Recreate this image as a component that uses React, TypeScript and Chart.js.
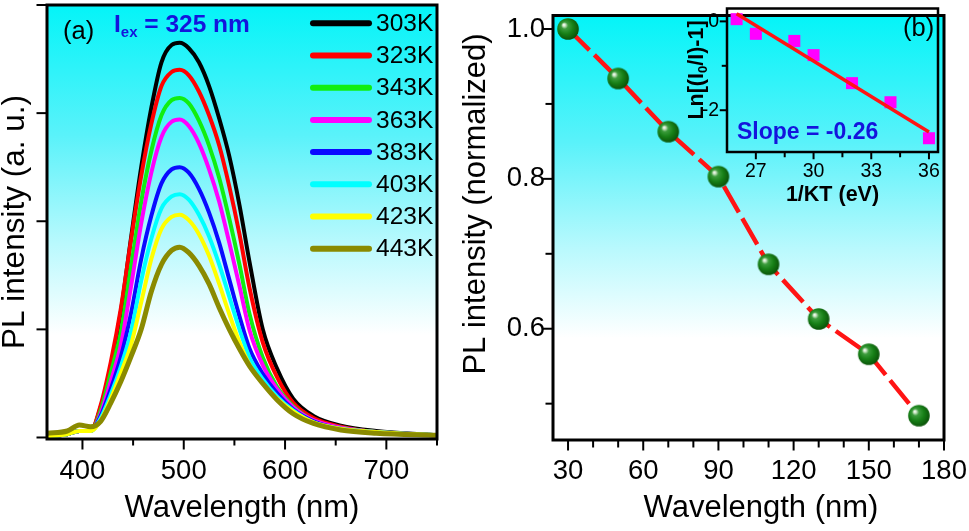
import React, { useEffect, useRef } from 'react';
import { Chart, registerables } from 'chart.js';

Chart.register(...registerables);

// ---------------- data ----------------
const WAVELENGTH = [365, 385, 397, 408, 418, 428, 438, 448, 458, 468, 478, 488, 496, 505, 515, 525, 535, 545, 555, 565, 578, 592, 608, 628, 655, 690, 750];
const PL_303K = [0.01, 0.03, 0.06, 0.06, 0.28, 0.66, 1.17, 1.85, 2.5, 3.05, 3.47, 3.63, 3.65, 3.6, 3.47, 3.25, 2.95, 2.6, 2.15, 1.62, 1.0, 0.64, 0.36, 0.2, 0.11, 0.06, 0.02];
const PL_323K = [0.01, 0.03, 0.06, 0.06, 0.3, 0.7, 1.2, 1.83, 2.42, 2.9, 3.25, 3.38, 3.4, 3.35, 3.2, 2.98, 2.7, 2.32, 1.88, 1.38, 0.88, 0.56, 0.32, 0.18, 0.1, 0.05, 0.02];
const PL_343K = [0.01, 0.03, 0.06, 0.06, 0.25, 0.6, 0.98, 1.58, 2.18, 2.65, 2.98, 3.12, 3.14, 3.09, 2.93, 2.7, 2.4, 2.02, 1.6, 1.14, 0.74, 0.47, 0.29, 0.16, 0.09, 0.05, 0.02];
const PL_363K = [0.01, 0.03, 0.06, 0.06, 0.22, 0.52, 0.86, 1.4, 1.98, 2.45, 2.78, 2.92, 2.94, 2.88, 2.72, 2.48, 2.18, 1.8, 1.4, 0.99, 0.67, 0.45, 0.28, 0.16, 0.09, 0.05, 0.02];
const PL_383K = [0.01, 0.03, 0.06, 0.06, 0.2, 0.45, 0.75, 1.15, 1.65, 2.05, 2.35, 2.48, 2.5, 2.45, 2.3, 2.08, 1.8, 1.46, 1.12, 0.82, 0.59, 0.41, 0.26, 0.15, 0.08, 0.05, 0.02];
const PL_403K = [0.01, 0.03, 0.06, 0.06, 0.18, 0.4, 0.66, 0.98, 1.45, 1.84, 2.12, 2.23, 2.25, 2.2, 2.06, 1.86, 1.6, 1.3, 1.0, 0.74, 0.54, 0.38, 0.25, 0.14, 0.08, 0.05, 0.02];
const PL_423K = [0.01, 0.03, 0.06, 0.06, 0.16, 0.36, 0.6, 0.86, 1.25, 1.65, 1.93, 2.04, 2.06, 2.01, 1.88, 1.68, 1.42, 1.14, 0.88, 0.67, 0.5, 0.36, 0.24, 0.14, 0.08, 0.05, 0.02];
const PL_443K = [0.04, 0.06, 0.115, 0.1, 0.15, 0.32, 0.52, 0.75, 1.0, 1.35, 1.6, 1.73, 1.76, 1.71, 1.59, 1.42, 1.2, 1.0, 0.82, 0.66, 0.5, 0.35, 0.22, 0.13, 0.07, 0.04, 0.02];
const TEMPERATURES = ['303K', '323K', '343K', '363K', '383K', '403K', '423K', '443K'];
const SERIES = [PL_303K, PL_323K, PL_343K, PL_363K, PL_383K, PL_403K, PL_423K, PL_443K];
const SERIES_COLORS = ['#000000', '#ff0000', '#11ee11', '#ff00ff', '#0a0aff', '#00ffff', '#ffff00', '#8a8a00'];

const TEMP_AXIS = [30, 50, 70, 90, 110, 130, 150, 170];
const NORMALIZED_PL = [1.0, 0.934, 0.863, 0.803, 0.686, 0.613, 0.566, 0.484];

const INV_KT = [26, 27, 29, 30, 32, 34, 36];
const LN_RATIO = [0.05, -0.28, -0.44, -0.76, -1.39, -1.82, -2.63];
const FIT_INV_KT = [26, 36];
const FIT_LN_RATIO = [0.17, -2.49];

const LEFT_X_MAJOR = [400, 500, 600, 700];
const LEFT_X_MINOR = [450, 550, 650, 750];
const LEFT_Y_MAJOR = [0, 1, 2, 3, 4];
const RIGHT_X_MAJOR = [30, 60, 90, 120, 150, 180];
const RIGHT_X_MINOR = [40, 50, 70, 80, 100, 110, 130, 140, 160, 170];
const RIGHT_Y_MAJOR = [0.6, 0.8, 1.0];
const RIGHT_Y_MINOR = [0.5, 0.7, 0.9];
const INSET_X_MAJOR = [27, 30, 33, 36];
const INSET_X_MINOR = [28.5, 31.5, 34.5];
const INSET_Y_MAJOR = [-2, 0];
const INSET_Y_MINOR = [-1];

// ---------------- helpers ----------------
const FONT = '"Liberation Sans", Arial, Helvetica, sans-serif';

type Seg = { t: string; sub?: boolean };
type TextItem = {
  segs: Seg[];
  x: number;
  y: number;
  size: number;
  bold?: boolean;
  color: string;
  align: 'left' | 'center';
  rotate?: boolean;
};

function drawRich(ctx: CanvasRenderingContext2D, item: TextItem) {
  const { segs, x, y, size, bold, color, align, rotate } = item;
  const w = bold ? 'bold ' : '';
  const subSize = Math.round(size * 0.62);
  const fontFor = (s: Seg) => `${w}${s.sub ? subSize : size}px ${FONT}`;
  let total = 0;
  const widths = segs.map((s) => {
    ctx.font = fontFor(s);
    const m = ctx.measureText(s.t).width;
    total += m;
    return m;
  });
  ctx.save();
  ctx.translate(x, y);
  if (rotate) ctx.rotate(-Math.PI / 2);
  ctx.fillStyle = color;
  ctx.textBaseline = 'middle';
  ctx.textAlign = 'left';
  let cx = align === 'center' ? -total / 2 : 0;
  segs.forEach((s, i) => {
    ctx.font = fontFor(s);
    ctx.fillText(s.t, cx, s.sub ? size * 0.32 : 0);
    cx += widths[i];
  });
  ctx.restore();
}

type DecoOpts = {
  id: string;
  background: boolean;
  frameWidth: number;
  tickWidth: number;
  majorLen: number;
  minorLen: number;
  xMajor: number[];
  xMinor: number[];
  yMajor: number[];
  yMinor: number[];
  texts: TextItem[];
  legend?: boolean;
};

function makeDeco(o: DecoOpts) {
  return {
    id: o.id,
    beforeDraw(chart: any) {
      if (!o.background) return;
      const { ctx, chartArea: a } = chart;
      const g = ctx.createLinearGradient(0, a.top, 0, a.bottom);
      g.addColorStop(0, 'rgb(4,244,248)');
      g.addColorStop(0.3, 'rgb(90,242,250)');
      g.addColorStop(0.55, 'rgb(185,249,253)');
      g.addColorStop(0.76, 'rgb(255,255,255)');
      g.addColorStop(1, 'rgb(255,255,255)');
      ctx.save();
      ctx.fillStyle = g;
      ctx.fillRect(a.left, a.top, a.right - a.left, a.bottom - a.top);
      ctx.restore();
    },
    afterDraw(chart: any) {
      const { ctx, chartArea: a, scales } = chart;
      ctx.save();
      ctx.strokeStyle = '#000';
      ctx.lineWidth = o.frameWidth;
      ctx.strokeRect(a.left, a.top, a.right - a.left, a.bottom - a.top);
      ctx.lineWidth = o.tickWidth;
      ctx.lineCap = 'butt';
      const xTick = (v: number, len: number) => {
        const px = scales.x.getPixelForValue(v);
        ctx.beginPath();
        ctx.moveTo(px, a.bottom);
        ctx.lineTo(px, a.bottom + o.frameWidth / 2 + len);
        ctx.stroke();
      };
      const yTick = (v: number, len: number) => {
        const py = scales.y.getPixelForValue(v);
        ctx.beginPath();
        ctx.moveTo(a.left, py);
        ctx.lineTo(a.left - o.frameWidth / 2 - len, py);
        ctx.stroke();
      };
      o.xMajor.forEach((v) => xTick(v, o.majorLen));
      o.xMinor.forEach((v) => xTick(v, o.minorLen));
      o.yMajor.forEach((v) => yTick(v, o.majorLen));
      o.yMinor.forEach((v) => yTick(v, o.minorLen));

      if (o.legend) {
        TEMPERATURES.forEach((label, i) => {
          const y = 23.3 + i * 32.2;
          ctx.strokeStyle = SERIES_COLORS[i];
          ctx.lineWidth = 6;
          ctx.lineCap = 'round';
          ctx.beginPath();
          ctx.moveTo(313, y);
          ctx.lineTo(369, y);
          ctx.stroke();
          ctx.fillStyle = '#000';
          ctx.font = `24.5px ${FONT}`;
          ctx.textBaseline = 'middle';
          ctx.textAlign = 'left';
          ctx.fillText(label, 376, y + 1);
        });
      }
      o.texts.forEach((t) => drawRich(ctx, t));
      ctx.restore();
    },
  };
}

function makeSphere(r: number) {
  const c = document.createElement('canvas');
  const size = Math.ceil(r * 2) + 2;
  c.width = size;
  c.height = size;
  const ctx = c.getContext('2d')!;
  const cx = size / 2;
  const cy = size / 2;
  const g = ctx.createRadialGradient(cx - r * 0.4, cy - r * 0.4, 0, cx - r * 0.1, cy - r * 0.1, r * 1.15);
  g.addColorStop(0, '#ffffff');
  g.addColorStop(0.1, '#d6ecd0');
  g.addColorStop(0.28, '#3c9c3c');
  g.addColorStop(0.6, '#178017');
  g.addColorStop(1, '#0a5008');
  ctx.fillStyle = g;
  ctx.beginPath();
  ctx.arc(cx, cy, r, 0, Math.PI * 2);
  ctx.fill();
  return c;
}

const noGrid = { display: false, drawTicks: false };
const noBorder = { display: false };

export default function App() {
  const leftRef = useRef<HTMLCanvasElement>(null);
  const rightRef = useRef<HTMLCanvasElement>(null);
  const insetRef = useRef<HTMLCanvasElement>(null);

  useEffect(() => {
    const charts: Chart[] = [];

    // ---------- left panel ----------
    const leftDatasets = SERIES.map((vals, i) => ({
      label: TEMPERATURES[i],
      data: WAVELENGTH.map((x, j) => ({ x, y: vals[j] })),
      showLine: true,
      borderColor: SERIES_COLORS[i],
      backgroundColor: SERIES_COLORS[i],
      borderWidth: i === 7 ? 5 : 4,
      pointRadius: 0,
      cubicInterpolationMode: 'monotone',
      order: 8 - i,
    }));

    charts.push(
      new Chart(leftRef.current!, {
        type: 'scatter',
        data: { datasets: leftDatasets as any },
        options: {
          responsive: false,
          animation: false,
          devicePixelRatio: 1,
          events: [],
          layout: { padding: { left: 0, top: 5, right: 23, bottom: 0 } },
          plugins: { legend: { display: false }, tooltip: { enabled: false } },
          scales: {
            x: {
              type: 'linear',
              min: 365,
              max: 750,
              bounds: 'data',
              afterBuildTicks: (s: any) => {
                s.ticks = LEFT_X_MAJOR.map((v) => ({ value: v }));
              },
              afterFit: (s: any) => {
                s.height = 92;
                s.paddingLeft = 0;
                s.paddingRight = 0;
              },
              grid: noGrid,
              border: noBorder,
              ticks: {
                color: '#000',
                font: { family: FONT, size: 27.5 },
                padding: 16,
                maxRotation: 0,
                autoSkip: false,
                callback: (v: any) => String(v),
              },
              title: {
                display: true,
                text: 'Wavelength (nm)',
                color: '#000',
                font: { family: FONT, size: 31, lineHeight: 1 },
                padding: { top: 0, bottom: 7.5 },
              },
            },
            y: {
              type: 'linear',
              min: -0.014,
              max: 4,
              bounds: 'data',
              afterBuildTicks: (s: any) => {
                s.ticks = LEFT_Y_MAJOR.map((v) => ({ value: v }));
              },
              afterFit: (s: any) => {
                s.width = 47;
                s.paddingTop = 0;
                s.paddingBottom = 0;
              },
              grid: noGrid,
              border: noBorder,
              ticks: { display: false },
              title: {
                display: true,
                text: 'PL intensity (a. u.)',
                color: '#000',
                font: { family: FONT, size: 31.5, lineHeight: 1 },
                padding: { top: 0, bottom: 0 },
              },
            },
          },
        } as any,
        plugins: [
          makeDeco({
            id: 'decoLeft',
            background: true,
            frameWidth: 3,
            tickWidth: 2,
            majorLen: 9,
            minorLen: 5,
            xMajor: LEFT_X_MAJOR,
            xMinor: LEFT_X_MINOR,
            yMajor: LEFT_Y_MAJOR,
            yMinor: [],
            legend: true,
            texts: [
              { segs: [{ t: '(a)' }], x: 63, y: 32, size: 25.5, color: '#000', align: 'left' },
              {
                segs: [{ t: 'I' }, { t: 'ex', sub: true }, { t: ' = 325 nm' }],
                x: 114,
                y: 25,
                size: 24.5,
                bold: true,
                color: '#1414dc',
                align: 'left',
              },
            ],
          }) as any,
        ],
      })
    );

    // ---------- right panel ----------
    const sphere = makeSphere(10.8);
    charts.push(
      new Chart(rightRef.current!, {
        type: 'scatter',
        data: {
          datasets: [
            {
              label: 'normalized',
              data: TEMP_AXIS.map((x, i) => ({ x, y: NORMALIZED_PL[i] })),
              showLine: true,
              borderColor: '#ff1414',
              borderWidth: 4.5,
              borderDash: [30, 7],
              pointStyle: sphere,
              pointRadius: 11,
              clip: false,
            } as any,
          ],
        },
        options: {
          responsive: false,
          animation: false,
          devicePixelRatio: 1,
          events: [],
          layout: { padding: { left: 0, top: 5, right: 25, bottom: 0 } },
          plugins: { legend: { display: false }, tooltip: { enabled: false } },
          scales: {
            x: {
              type: 'linear',
              min: 24,
              max: 180,
              bounds: 'data',
              afterBuildTicks: (s: any) => {
                s.ticks = RIGHT_X_MAJOR.map((v) => ({ value: v }));
              },
              afterFit: (s: any) => {
                s.height = 91;
                s.paddingLeft = 0;
                s.paddingRight = 0;
              },
              grid: noGrid,
              border: noBorder,
              ticks: {
                color: '#000',
                font: { family: FONT, size: 27.5 },
                padding: 15,
                maxRotation: 0,
                autoSkip: false,
                callback: (v: any) => String(v),
              },
              title: { display: false },
            },
            y: {
              type: 'linear',
              min: 0.4515,
              max: 1.018,
              bounds: 'data',
              afterBuildTicks: (s: any) => {
                s.ticks = RIGHT_Y_MAJOR.map((v) => ({ value: v }));
              },
              afterFit: (s: any) => {
                s.width = 93;
                s.paddingTop = 0;
                s.paddingBottom = 0;
              },
              grid: noGrid,
              border: noBorder,
              ticks: {
                color: '#000',
                font: { family: FONT, size: 27.5 },
                padding: 8,
                autoSkip: false,
                callback: (v: any) => Number(v).toFixed(1),
              },
              title: { display: false },
            },
          },
        } as any,
        plugins: [
          makeDeco({
            id: 'decoRight',
            background: true,
            frameWidth: 3,
            tickWidth: 2,
            majorLen: 9,
            minorLen: 6,
            xMajor: RIGHT_X_MAJOR,
            xMinor: RIGHT_X_MINOR,
            yMajor: RIGHT_Y_MAJOR,
            yMinor: RIGHT_Y_MINOR,
            texts: [
              { segs: [{ t: 'Wavelength (nm)' }], x: 301, y: 508, size: 31, color: '#000', align: 'center' },
              { segs: [{ t: 'PL intensity (normalized)' }], x: 16, y: 204, size: 31, color: '#000', align: 'center', rotate: true },
            ],
          }) as any,
        ],
      })
    );

    // ---------- inset ----------
    charts.push(
      new Chart(insetRef.current!, {
        type: 'scatter',
        data: {
          datasets: [
            {
              label: 'fit',
              data: FIT_INV_KT.map((x, i) => ({ x, y: FIT_LN_RATIO[i] })),
              showLine: true,
              borderColor: '#ff1414',
              borderWidth: 3.5,
              pointRadius: 0,
              order: 0,
              clip: false,
            } as any,
            {
              label: 'data',
              data: INV_KT.map((x, i) => ({ x, y: LN_RATIO[i] })),
              pointStyle: 'rect',
              pointRadius: 8.5,
              backgroundColor: '#ff00ff',
              borderWidth: 0,
              order: 1,
              clip: false,
            } as any,
          ],
        },
        options: {
          responsive: false,
          animation: false,
          devicePixelRatio: 1,
          events: [],
          layout: { padding: { left: 0, top: 8, right: 31, bottom: 0 } },
          plugins: { legend: { display: false }, tooltip: { enabled: false } },
          scales: {
            x: {
              type: 'linear',
              min: 25.5,
              max: 36.47,
              bounds: 'data',
              afterBuildTicks: (s: any) => {
                s.ticks = INSET_X_MAJOR.map((v) => ({ value: v }));
              },
              afterFit: (s: any) => {
                s.height = 63;
                s.paddingLeft = 0;
                s.paddingRight = 0;
              },
              grid: noGrid,
              border: noBorder,
              ticks: {
                color: '#000',
                font: { family: FONT, size: 19.5 },
                padding: 8,
                maxRotation: 0,
                autoSkip: false,
                callback: (v: any) => String(v),
              },
              title: {
                display: true,
                text: '1/KT (eV)',
                color: '#000',
                font: { family: FONT, size: 21.5, weight: 'bold', lineHeight: 1 },
                padding: { top: 0, bottom: 9.5 },
              },
            },
            y: {
              type: 'linear',
              min: -2.94,
              max: 0.29,
              bounds: 'data',
              afterBuildTicks: (s: any) => {
                s.ticks = INSET_Y_MAJOR.map((v) => ({ value: v }));
              },
              afterFit: (s: any) => {
                s.width = 47;
                s.paddingTop = 0;
                s.paddingBottom = 0;
              },
              grid: noGrid,
              border: noBorder,
              ticks: {
                color: '#000',
                font: { family: FONT, size: 19.5 },
                padding: 8,
                autoSkip: false,
                callback: (v: any) => String(v),
              },
              title: { display: false },
            },
          },
        } as any,
        plugins: [
          makeDeco({
            id: 'decoInset',
            background: false,
            frameWidth: 2.5,
            tickWidth: 2,
            majorLen: 6,
            minorLen: 4,
            xMajor: INSET_X_MAJOR,
            xMinor: INSET_X_MINOR,
            yMajor: INSET_Y_MAJOR,
            yMinor: INSET_Y_MINOR,
            texts: [
              {
                segs: [{ t: 'Ln[(I' }, { t: '0', sub: true }, { t: '/I)-1]' }],
                x: 17,
                y: 70,
                size: 21.5,
                bold: true,
                color: '#000',
                align: 'center',
                rotate: true,
              },
              { segs: [{ t: 'Slope = -0.26' }], x: 57, y: 133, size: 23, bold: true, color: '#1414dc', align: 'left' },
              { segs: [{ t: '(b)' }], x: 223, y: 29, size: 25.5, color: '#000', align: 'left' },
            ],
          }) as any,
        ],
      })
    );

    return () => charts.forEach((c) => c.destroy());
  }, []);

  return (
    <div style={{ position: 'absolute', left: 0, top: 0, width: 969, height: 531, background: '#fff', overflow: 'hidden' }}>
      <canvas ref={leftRef} width={460} height={531} style={{ position: 'absolute', left: 0, top: 0, width: 460, height: 531 }} />
      <canvas ref={rightRef} width={509} height={531} style={{ position: 'absolute', left: 460, top: 0, width: 509, height: 531 }} />
      <canvas ref={insetRef} width={289} height={215} style={{ position: 'absolute', left: 680, top: 0, width: 289, height: 215 }} />
    </div>
  );
}
